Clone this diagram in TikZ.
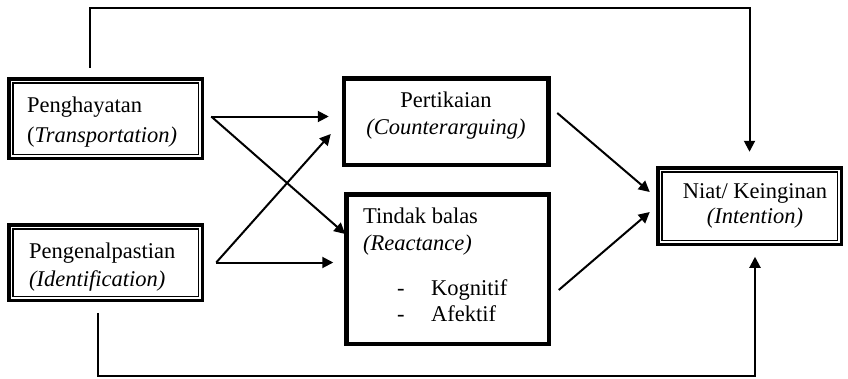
\documentclass[tikz,border=0pt]{standalone}
\usepackage{fontspec}
\setmainfont{Liberation Serif}
\usetikzlibrary{arrows.meta}
\begin{document}
\begin{tikzpicture}[x=1pt,y=-1pt,
  every node/.style={font=\fontsize{22.5}{27}\selectfont},
  dbox/.style={draw, line width=3.5pt, rectangle, inner sep=0pt, outer sep=0pt},
  innerline/.style={line width=1.5pt},
  tbox/.style={draw, line width=4.5pt, rectangle, inner sep=0pt, outer sep=0pt},
  lbl/.style={inner sep=0pt, anchor=base west},
  clbl/.style={inner sep=0pt, anchor=base},
  arr/.style={line width=2pt, -{Triangle[length=11pt,width=11pt]}},
  conn/.style={line width=2pt},
]
\useasboundingbox (0,0) rectangle (848,378);

% boxes
\node[dbox, minimum width=193.5pt, minimum height=79.5pt] (pen) at (105.5,118.5) {};
\draw[innerline] ([xshift=4pt,yshift=-4pt]pen.north west) rectangle ([xshift=-4pt,yshift=4pt]pen.south east);
\node[dbox, minimum width=193.5pt, minimum height=75.5pt] (pengn) at (105.5,262.5) {};
\draw[innerline] ([xshift=4pt,yshift=-4pt]pengn.north west) rectangle ([xshift=-4pt,yshift=4pt]pengn.south east);
\node[tbox, minimum width=204.5pt, minimum height=86.5pt] (pert) at (446,121.5) {};
\node[tbox, minimum width=202.5pt, minimum height=149.5pt] (tb) at (447.5,269) {};
\node[dbox, minimum width=183.5pt, minimum height=76.5pt] (niat) at (749.5,206) {};
\draw[innerline] ([xshift=4pt,yshift=-4pt]niat.north west) rectangle ([xshift=-4pt,yshift=4pt]niat.south east);

% texts
\node[lbl] (penA) at (27,112) {Penghayatan};
\node[lbl] (penB) at (27,142) {(\textit{Transportation)}};
\node[lbl] (pengA) at (29,258) {Pengenalpastian};
\node[lbl] (pengB) at (29,286) {\textit{(Identification)}};
\node[clbl] (pertA) at (446,107) {Pertikaian};
\node[clbl] (pertB) at (446,134) {\textit{(Counterarguing)}};
\node[lbl] (tbA) at (363,223) {Tindak balas};
\node[lbl] (tbB) at (363,250) {\textit{(Reactance)}};
\node[lbl] (tbD1) at (397,295.5) {-};
\node[lbl] (tbC) at (431,295.5) {Kognitif};
\node[lbl] (tbD2) at (397,321) {-};
\node[lbl] (tbE) at (431,321) {Afektif};
\node[clbl] (niatA) at (755,198) {Niat/ Keinginan};
\node[clbl] (niatB) at (755,223) {\textit{(Intention)}};

% middle arrows
\coordinate (p1) at ([xshift=9pt,yshift=2pt]pen.east);
\coordinate (p2) at ([xshift=14pt]pengn.east);
\coordinate (q1) at ([xshift=-15pt]pert.west);
\coordinate (q2) at ([xshift=-13pt]tb.west);
\draw[arr] (p1) -- (p1 -| q1);
\draw[arr] (p1) -- ([xshift=-1pt,yshift=35pt]tb.west);
\draw[arr] (p2) -- (p2 -| q2);
\draw[arr] (p2) -- ([xshift=-13pt,yshift=-12.5pt]pert.west);

% right arrows
\draw[arr] ([xshift=9pt,yshift=8.5pt]pert.east) -- ([xshift=-8pt,yshift=14pt]niat.west);
\draw[arr] ([xshift=10pt,yshift=-21pt]tb.east) -- ([xshift=-8pt,yshift=-6pt]niat.west);

% outer connectors
\draw[conn, -{Triangle[length=11pt,width=11pt]}] ([xshift=81pt,yshift=11pt]pen.north west) -- ++(0,-60) -| ([yshift=16pt]niat.north);
\draw[conn, -{Triangle[length=11pt,width=11pt]}] ([xshift=89pt,yshift=-12.5pt]pengn.south west) -- ++(0,63.5) -| ([xshift=5.5pt,yshift=-12.5pt]niat.south);
\end{tikzpicture}
\end{document}
